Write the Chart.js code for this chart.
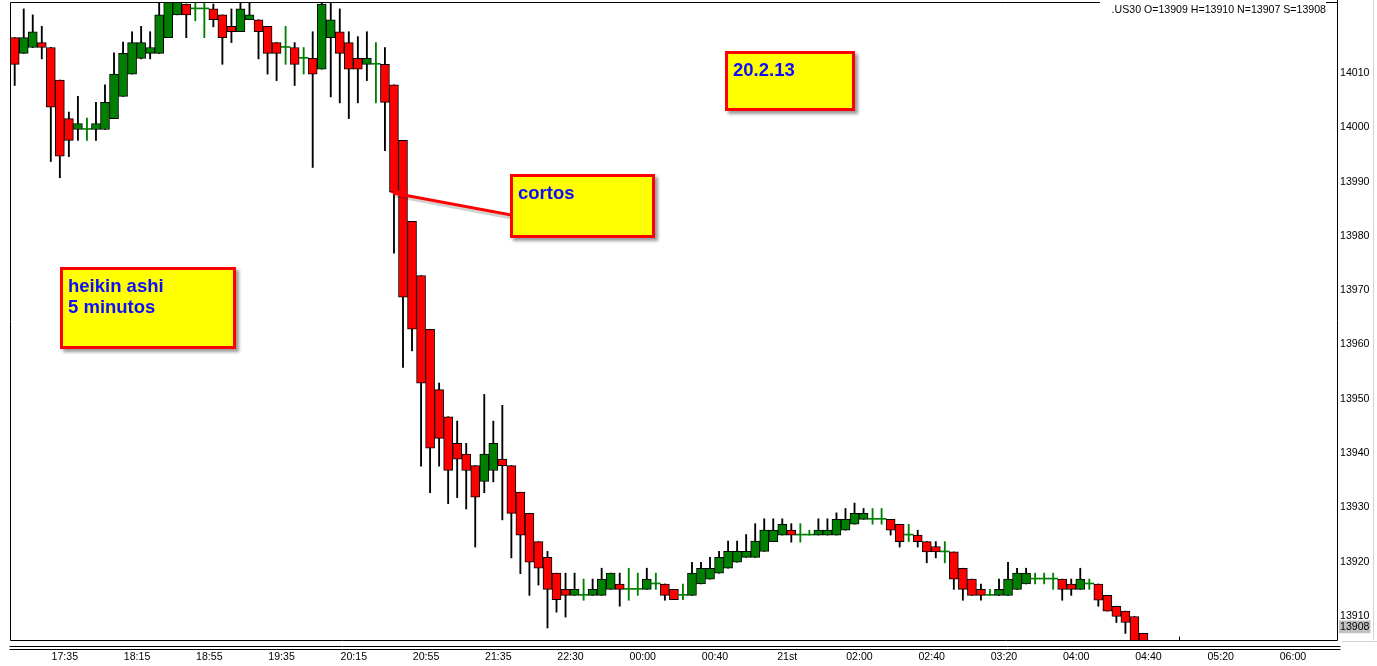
<!DOCTYPE html>
<html><head><meta charset="utf-8">
<script src="https://cdn.jsdelivr.net/npm/chart.js@4.4.1/dist/chart.umd.min.js"></script>
<style>
html,body{margin:0;padding:0;background:#fff;overflow:hidden}
#wrap{position:relative;width:1377px;height:666px}
#c{position:absolute;left:0;top:0}
.note{position:absolute;background:#ffff00;border:3px solid #ff0000;box-sizing:border-box;color:#0c0cff;font:bold 18.5px "Liberation Sans",Arial,sans-serif;line-height:21px;box-shadow:3px 3px 3px rgba(0,0,0,0.4);padding:5px 0 0 5px;white-space:pre}
#hdr{position:absolute;left:1100px;width:226px;top:0px;height:14px;padding-top:3px;text-align:right;font:10.6px "Liberation Sans",Arial,sans-serif;color:#000;background:#fff}
svg{position:absolute;left:0;top:0}
</style></head>
<body><div id="wrap">
<canvas id="c" width="1377" height="666"></canvas>
<svg width="1377" height="666">
  <line x1="395" y1="196" x2="512" y2="218" stroke="rgba(0,0,0,0.18)" stroke-width="3"/>
  <line x1="393" y1="193" x2="511" y2="215" stroke="#ff0000" stroke-width="3"/>
  <polygon points="389,192 408,189 405,198" fill="#ff0000"/>
</svg>
<div id="hdr">.US30 O=13909 H=13910 N=13907 S=13908</div>
<div class="note" style="left:725px;top:51px;width:130px;height:60px">20.2.13</div>
<div class="note" style="left:510px;top:174px;width:145px;height:64px">cortos</div>
<div class="note" style="left:60px;top:267px;width:176px;height:82px">heikin ashi
5 minutos</div>
</div>
<script>
const timeLabels = ["17:35","18:15","18:55","19:35","20:15","20:55","21:35","22:30","00:00","00:40","21st","02:00","02:40","03:20","04:00","04:40","05:20","06:00"];
const priceTicks = [13910,13920,13930,13940,13950,13960,13970,13980,13990,14000,14010];
const lastPrice = 13908;

const opens = [14016.5,14013.6,14014.7,14015.6,14014.7,14008.7,14001.6,13999.6,13999.6,13999.6,
13999.6,14001.6,14005.7,14009.8,14012.7,14013.6,14013.6,14016.5,14020.7,14022.7,
14021.8,14021.8,14021.8,14020.7,14018.6,14017.6,14019.8,14019.8,14018.6,14015.6,
14014.7,14014.7,14012.7,14012.7,14010.7,14016.5,14017.6,14015.6,14012.7,14011.6,
14011.6,14011.6,14007.8,13997.6,13982.7,13972.7,13962.8,13951.7,13946.7,13941.8,
13939.8,13937.7,13934.8,13936.8,13938.9,13937.7,13932.8,13928.9,13923.7,13920.8,
13917.9,13914.9,13913.8,13913.8,13913.8,13913.8,13914.9,13915.9,13914.9,13914.9,
13914.9,13915.9,13915.9,13914.9,13913.8,13913.8,13915.9,13916.8,13917.9,13918.8,
13919.9,13920.8,13920.8,13921.9,13923.7,13924.9,13925.8,13924.9,13924.9,13924.9,
13924.9,13924.9,13925.8,13926.9,13927.8,13927.8,13927.8,13927.8,13926.9,13924.9,
13924.9,13923.7,13922.8,13921.8,13921.8,13918.8,13916.8,13914.9,13913.8,13913.8,
13913.8,13914.9,13915.9,13916.8,13916.8,13916.8,13916.8,13915.9,13914.9,13915.9,
13915.9,13913.8,13911.8,13910.9,13909.9,13906.8];
const closes = [14011.6,14016.5,14017.6,14014.7,14003.7,13994.7,13997.6,14000.7,13999.6,14000.7,
14004.6,14009.8,14013.6,14015.6,14015.6,14014.7,14020.7,14023.3,14023.1,14020.7,
14021.8,14021.8,14019.8,14016.5,14017.6,14021.8,14020.7,14017.6,14013.6,14013.6,
14014.7,14011.6,14012.7,14009.8,14022.7,14019.8,14013.6,14010.7,14010.7,14012.7,
14011.6,14004.6,13988.1,13968.7,13962.8,13952.9,13940.9,13942.7,13936.8,13938.9,
13936.8,13931.9,13939.8,13941.8,13937.7,13928.9,13924.9,13919.9,13918.8,13914.9,
13913.0,13913.8,13914.9,13913.8,13914.9,13916.8,13917.9,13914.9,13914.9,13914.9,
13916.8,13915.9,13913.8,13913.0,13913.8,13917.9,13918.8,13918.8,13920.8,13921.9,
13921.9,13921.9,13923.8,13925.8,13925.8,13926.9,13924.9,13924.9,13924.9,13925.8,
13925.8,13927.8,13927.8,13928.9,13928.9,13927.8,13927.8,13925.8,13923.7,13924.9,
13923.7,13921.8,13921.8,13921.8,13916.8,13914.9,13913.8,13913.8,13913.8,13914.9,
13916.8,13917.9,13917.9,13916.8,13916.8,13916.8,13914.9,13914.9,13916.8,13915.9,
13912.9,13910.9,13909.9,13908.8,13904.9,13904.9];
const highs = [14016.5,14021.8,14020.7,14018.6,14014.7,14008.7,14002.8,14005.7,14001.7,14004.6,
14007.8,14013.7,14015.7,14017.6,14018.6,14017.6,14024.8,14025.8,14024.8,14022.7,
14023.8,14023.8,14022.7,14020.7,14021.8,14023.8,14023.8,14019.8,14018.6,14015.6,
14018.6,14015.6,14014.7,14017.6,14023.8,14023.8,14021.8,14017.6,14016.7,14017.6,
14015.6,14014.7,14007.8,13997.6,13982.7,13972.7,13962.8,13952.9,13946.7,13945.9,
13941.8,13937.7,13950.8,13945.9,13948.8,13937.7,13932.8,13928.9,13923.7,13921.9,
13917.9,13917.9,13917.9,13916.8,13916.8,13918.8,13917.9,13917.9,13918.8,13917.9,
13918.8,13917.9,13915.9,13914.9,13915.9,13919.9,13919.9,13920.8,13921.9,13923.8,
13923.8,13925.0,13927.0,13927.9,13927.9,13927.9,13927.0,13927.0,13925.8,13927.9,
13927.9,13929.0,13929.8,13930.8,13929.8,13929.8,13929.8,13927.8,13926.9,13926.9,
13925.8,13923.7,13923.7,13923.7,13921.8,13918.8,13916.8,13915.9,13914.9,13916.8,
13919.9,13918.8,13918.8,13917.9,13917.9,13917.9,13916.8,13916.8,13918.8,13916.8,
13915.9,13913.8,13911.8,13910.9,13909.9,13906.8];
const lows = [14007.7,14013.6,14014.7,14012.6,13993.7,13990.7,13994.6,13997.6,13997.6,13997.6,
13999.6,14001.6,14005.7,14009.8,14012.6,14012.6,14013.6,14016.5,14020.7,14016.5,
14019.6,14016.5,14018.5,14011.6,14015.6,14017.6,14019.8,14012.6,14009.8,14008.6,
14011.6,14007.7,14009.8,13992.6,14010.7,14005.6,14004.5,14001.6,14004.5,14008.6,
14004.5,13995.7,13976.8,13955.8,13958.8,13937.6,13932.7,13937.6,13930.7,13931.8,
13929.7,13922.7,13932.7,13934.7,13927.7,13920.7,13917.8,13913.8,13915.7,13907.8,
13910.7,13909.8,13913.8,13912.9,13913.8,13913.8,13914.9,13911.8,13912.9,13913.8,
13914.9,13914.9,13912.9,13913.0,13913.0,13913.8,13915.9,13916.8,13917.9,13918.8,
13919.9,13920.8,13920.8,13921.9,13923.7,13924.9,13923.6,13923.6,13924.9,13924.9,
13924.9,13924.9,13925.8,13926.9,13927.8,13926.9,13926.9,13924.9,13922.7,13923.7,
13922.7,13919.8,13920.7,13919.8,13914.9,13912.9,13913.8,13912.9,13913.8,13913.8,
13913.8,13914.9,13915.9,13915.9,13915.9,13914.9,13912.9,13913.8,13914.9,13914.9,
13911.8,13910.9,13908.8,13906.8,13904.9,13904.9];

const UP = '#008000', DOWN = '#ff0000';
const idx = opens.map((_, i) => i);
const isDoji = i => opens[i] === closes[i];
const bodyColor = i => closes[i] >= opens[i] ? UP : DOWN;
const FONT = '"Liberation Sans", Arial, sans-serif';

const noPad = s => { s.paddingTop = 0; s.paddingBottom = 0; s.paddingLeft = 0; s.paddingRight = 0; };

const framePlugin = {
  id: 'frame',
  afterDraw(chart) {
    const {ctx, chartArea: a} = chart;
    ctx.save();
    ctx.strokeStyle = '#000';
    ctx.lineWidth = 1;
    const L = Math.round(a.left) + 0.5, T = Math.round(a.top) - 0.5, R = Math.round(a.right) + 0.5, B = Math.round(a.bottom) + 0.5;
    ctx.beginPath();
    ctx.moveTo(L, T); ctx.lineTo(R, T);
    ctx.moveTo(L, T); ctx.lineTo(L, B); ctx.lineTo(R, B);
    ctx.moveTo(R, 0); ctx.lineTo(R, B);
    ctx.moveTo(L - 1, B + 6); ctx.lineTo(R + 3, B + 6);
    ctx.moveTo(L - 1, B + 9); ctx.lineTo(R + 3, B + 9);
    ctx.moveTo(1179.5, B - 4); ctx.lineTo(1179.5, B);
    ctx.stroke();
    ctx.strokeStyle = '#d4d4d4';
    ctx.beginPath();
    ctx.moveTo(1373.5, 0); ctx.lineTo(1373.5, B);
    ctx.moveTo(R + 4, B + 1); ctx.lineTo(1377, B + 1);
    ctx.stroke();
    ctx.restore();
  }
};

new Chart(document.getElementById('c'), {
  type: 'bar',
  data: {
    datasets: [
      {
        label: 'body',
        data: idx.map(i => ({x: i, y: [opens[i], closes[i]]})),
        order: 1,
        grouped: false,
        barThickness: 9,
        minBarLength: 1,
        borderSkipped: false,
        backgroundColor: c => bodyColor(c.dataIndex),
        borderColor: c => isDoji(c.dataIndex) ? UP : '#000',
        borderWidth: c => isDoji(c.dataIndex) ? 0 : 1
      },
      {
        label: 'wick',
        data: idx.map(i => ({x: i, y: [lows[i], highs[i]]})),
        order: 2,
        grouped: false,
        barThickness: 1.2,
        borderWidth: 0,
        backgroundColor: c => isDoji(c.dataIndex) ? UP : '#000'
      }
    ]
  },
  options: {
    responsive: false,
    animation: false,
    events: [],
    layout: {padding: {left: 10, top: 3, right: 0, bottom: 0}},
    plugins: {legend: {display: false}, tooltip: {enabled: false}},
    scales: {
      x: {
        type: 'linear', min: -0.52, max: 146.43, offset: false,
        grid: {display: false, drawTicks: false}, border: {display: false},
        afterBuildTicks: s => { s.ticks = timeLabels.map((t, k) => ({value: 5.55 + 8 * k})); },
        afterFit: s => { s.height = 26; noPad(s); },
        ticks: {autoSkip: false, maxRotation: 0, padding: 11, color: '#000',
          font: {family: FONT, size: 10.6}, callback: (v, i) => timeLabels[i]}
      },
      y: {
        position: 'right', min: 13905.58, max: 14022.89,
        grid: {display: false, drawTicks: false}, border: {display: false},
        afterBuildTicks: s => { s.ticks = priceTicks.concat([lastPrice]).map(v => ({value: v})); },
        afterFit: s => { s.width = 40; noPad(s); },
        ticks: {autoSkip: false, padding: 3, color: '#000', font: {family: FONT, size: 10.6},
          callback: v => String(v),
          showLabelBackdrop: c => !!(c.tick && c.tick.value === lastPrice),
          backdropColor: '#c0c0c0',
          backdropPadding: {top: 0, bottom: 0, left: 1, right: 1}}
      }
    }
  },
  plugins: [framePlugin]
});
</script>
</body></html>
